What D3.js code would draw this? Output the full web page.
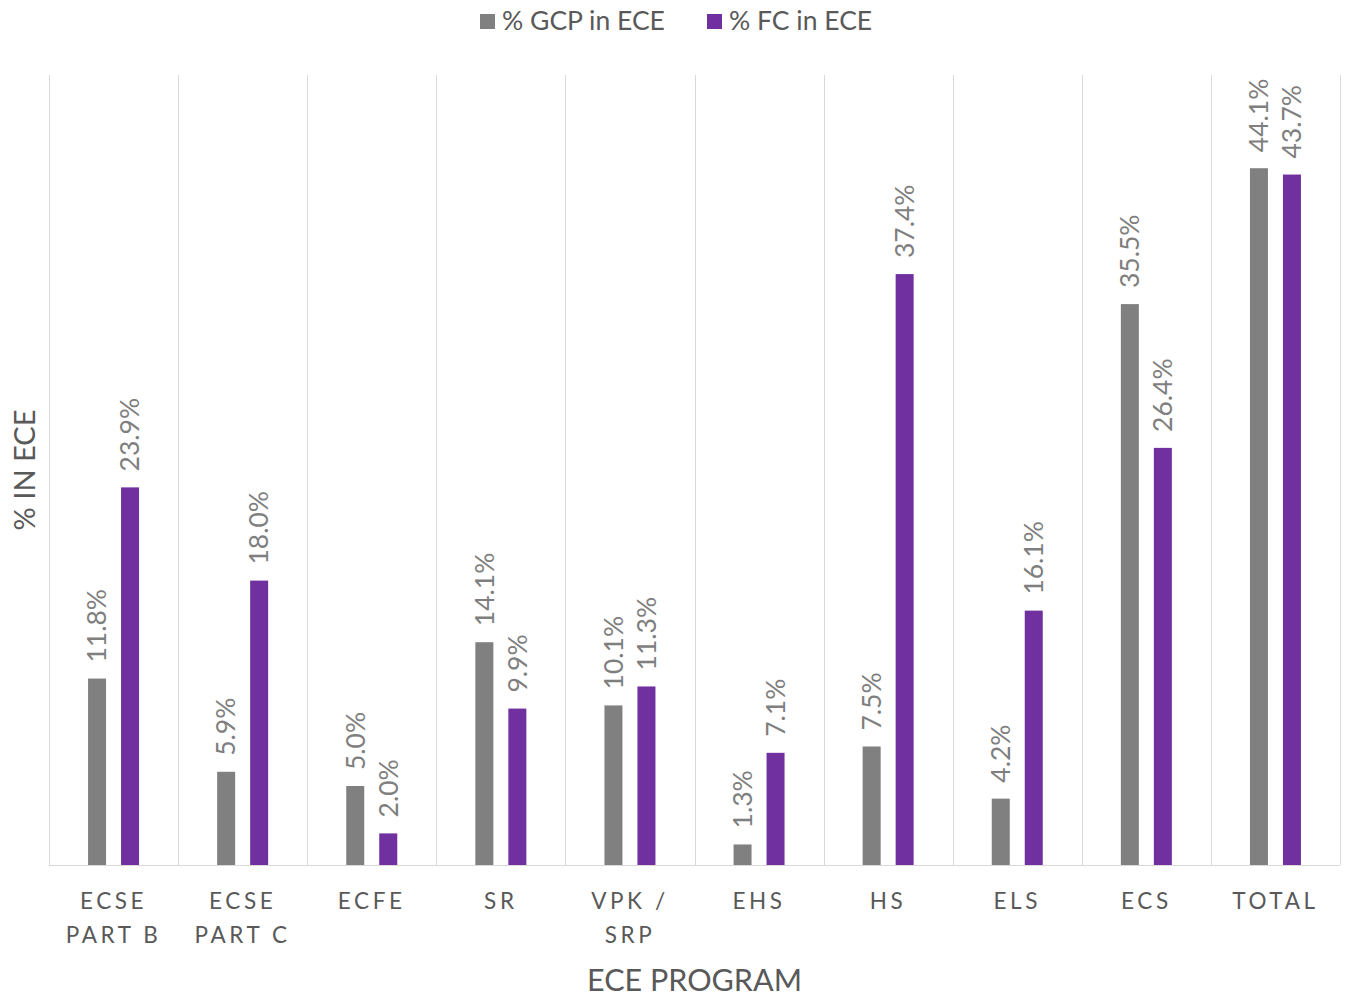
<!DOCTYPE html>
<html>
<head>
<meta charset="utf-8">
<script src="https://cdn.jsdelivr.net/npm/d3@7"></script>
<style>
  html, body { margin: 0; padding: 0; background: #fff; }
  svg { display: block; font-family: Lato, "Open Sans", sans-serif; }
</style>
</head>
<body>
<svg id="chart" width="1347" height="996"></svg>
<script>
// Program categories (line breaks within a label are split on "\n")
const categories = ["ECSE\nPART B", "ECSE\nPART C", "ECFE", "SR", "VPK /\nSRP", "EHS", "HS", "ELS", "ECS", "TOTAL"];
const seriesNames = ["% GCP in ECE", "% FC in ECE"];
const gcpValues = [11.8, 5.9, 5.0, 14.1, 10.1, 1.3, 7.5, 4.2, 35.5, 44.1];
const fcValues  = [23.9, 18.0, 2.0, 9.9, 11.3, 7.1, 37.4, 16.1, 26.4, 43.7];
const seriesColors = ["#808080", "#7030a0"];

const svg = d3.select("#chart");
const margin = { left: 49, right: 7, top: 75, bottom: 131 };
const W = 1347, H = 996;
const plotW = W - margin.left - margin.right;
const plotH = H - margin.top - margin.bottom;

const g = svg.append("g").attr("transform", `translate(${margin.left},${margin.top})`);

const x0 = d3.scaleBand().domain(categories).range([0, plotW]).paddingInner(0).paddingOuter(0);
const bw = x0.bandwidth();
const x1 = d3.scaleBand().domain(seriesNames)
  .range([bw / 2 - 25.5, bw / 2 + 25.5]).paddingInner(0.4545).paddingOuter(0);
const y = d3.scaleLinear().domain([0, 50]).range([plotH, 0]);

// vertical category separators
const bounds = categories.map(c => x0(c)).concat([plotW]);
g.selectAll("line.sep").data(bounds).join("line")
  .attr("class", "sep")
  .attr("x1", d => Math.round(d) + 0.5).attr("x2", d => Math.round(d) + 0.5)
  .attr("y1", 0).attr("y2", plotH)
  .attr("stroke", "#d9d9d9").attr("stroke-width", 1);

// baseline
g.append("line")
  .attr("x1", 0).attr("x2", plotW)
  .attr("y1", plotH + 0.5).attr("y2", plotH + 0.5)
  .attr("stroke", "#d9d9d9").attr("stroke-width", 1);

const rows = categories.map((c, i) => ({
  cat: c,
  vals: [
    { s: seriesNames[0], v: gcpValues[i], color: seriesColors[0] },
    { s: seriesNames[1], v: fcValues[i], color: seriesColors[1] }
  ]
}));

const groups = g.selectAll("g.cat").data(rows).join("g")
  .attr("class", "cat")
  .attr("transform", d => `translate(${x0(d.cat)},0)`);

groups.selectAll("rect").data(d => d.vals).join("rect")
  .attr("x", d => x1(d.s))
  .attr("width", x1.bandwidth())
  .attr("y", d => y(d.v))
  .attr("height", d => plotH - y(d.v))
  .attr("fill", d => d.color);

// rotated value labels above each bar
groups.selectAll("text.val").data(d => d.vals).join("text")
  .attr("class", "val")
  .attr("transform", d => `translate(${x1(d.s) + x1.bandwidth() / 2},${y(d.v) - 16}) rotate(-90)`)
  .attr("text-anchor", "start")
  .attr("dy", "0.35em")
  .attr("fill", "#7f7f7f")
  .attr("font-size", 26.5)
  .text(d => d.v.toFixed(1) + "%");

// category tick labels
const ticks = g.selectAll("text.tick").data(categories).join("text")
  .attr("class", "tick")
  .attr("x", d => x0(d) + bw / 2)
  .attr("y", plotH + 44)
  .attr("text-anchor", "middle")
  .attr("fill", "#595959")
  .attr("font-size", 22.5)
  .attr("letter-spacing", "3.6px");
ticks.each(function(d) {
  const t = d3.select(this);
  d.split("\n").forEach((line, i) => {
    t.append("tspan")
      .attr("x", x0(d) + bw / 2)
      .attr("dy", i === 0 ? 0 : 34)
      .text(line);
  });
});

// axis titles
svg.append("text")
  .attr("x", margin.left + plotW / 2)
  .attr("y", 991)
  .attr("text-anchor", "middle")
  .attr("fill", "#595959")
  .attr("font-size", 30.5)
  .text("ECE PROGRAM");

svg.append("text")
  .attr("transform", `translate(35,470) rotate(-90)`)
  .attr("text-anchor", "middle")
  .attr("fill", "#595959")
  .attr("font-size", 29)
  .text("% IN ECE");

// legend
const legendItems = [
  { name: seriesNames[0], color: seriesColors[0], x: 480 },
  { name: seriesNames[1], color: seriesColors[1], x: 707 }
];
const lg = svg.selectAll("g.legend").data(legendItems).join("g")
  .attr("class", "legend")
  .attr("transform", d => `translate(${d.x},0)`);
lg.append("rect").attr("x", 0).attr("y", 14).attr("width", 15).attr("height", 15).attr("fill", d => d.color);
lg.append("text").attr("x", 22).attr("y", 30)
  .attr("fill", "#595959").attr("font-size", 26.5)
  .text(d => d.name);
</script>
</body>
</html>
